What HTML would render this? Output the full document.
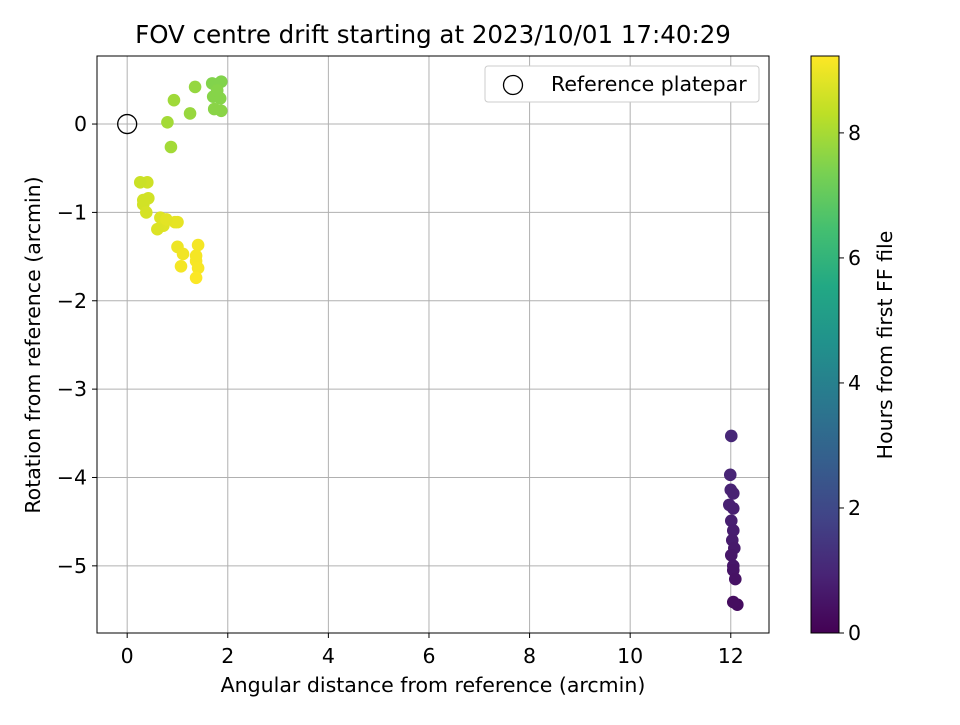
<!DOCTYPE html>
<html><head><meta charset="utf-8">
<style>
body{margin:0;background:#fff;}
svg text{font-family:"DejaVu Sans","Liberation Sans",sans-serif;fill:#000;}
</style></head><body>
<svg id="chart" width="960" height="720" xmlns="http://www.w3.org/2000/svg">
<defs>
<linearGradient id="vir" x1="0" y1="1" x2="0" y2="0">
<stop offset="0" stop-color="#440154"/><stop offset="0.1" stop-color="#482475"/><stop offset="0.2" stop-color="#414487"/><stop offset="0.3" stop-color="#355f8d"/><stop offset="0.4" stop-color="#2a788e"/><stop offset="0.5" stop-color="#21918c"/><stop offset="0.6" stop-color="#22a884"/><stop offset="0.7" stop-color="#44bf70"/><stop offset="0.8" stop-color="#7ad151"/><stop offset="0.9" stop-color="#bddf26"/><stop offset="1" stop-color="#fde725"/>
</linearGradient>
<clipPath id="pc"><rect x="97" y="56" width="672" height="577"/></clipPath>
</defs>
<text x="433" y="43" style="font-size:24.5px" text-anchor="middle">FOV centre drift starting at 2023/10/01 17:40:29</text>
<g id="grid"></g>
<g id="pts" clip-path="url(#pc)"></g>
<rect x="97" y="56" width="672" height="577" fill="none" stroke="#000" stroke-width="1"/>
<g id="ticks"></g>
<text x="433" y="692" style="font-size:20.5px" text-anchor="middle">Angular distance from reference (arcmin)</text>
<text transform="translate(40,345) rotate(-90)" style="font-size:20.5px" text-anchor="middle">Rotation from reference (arcmin)</text>
<g>
<rect x="485" y="66" width="274" height="36" rx="3" fill="#fff" stroke="#ccc"/>
<circle cx="513" cy="85" r="9.5" fill="none" stroke="#000" stroke-width="1.3"/>
<text x="551" y="91" style="font-size:20.5px">Reference platepar</text>
</g>
<rect x="811" y="56" width="28" height="577" fill="url(#vir)" stroke="#000" stroke-width="1"/>
<g id="cbticks"></g>
<text transform="translate(892,345) rotate(-90)" style="font-size:20.5px" text-anchor="middle">Hours from first FF file</text>
</svg>
<script>
const xTicks=[0,2,4,6,8,10,12];
const yTicks=[0,-1,-2,-3,-4,-5];
const cTicks=[0,2,4,6,8];
const ptX=[1.69,1.87,1.71,1.85,1.73,1.87,1.25,0.80,0.93,1.35,0.87,1.79,
0.40,0.26,0.42,0.32,0.38,0.32,0.66,0.72,0.60,0.95,1.0,0.78,1.0,1.11,1.07,1.41,1.37,1.41,1.37,1.37,
12.01,11.99,12.0,12.05,11.97,12.05,12.01,12.05,12.03,12.07,12.01,12.05,12.05,12.09,12.13,12.05];
const ptY=[0.46,0.48,0.31,0.29,0.17,0.15,0.12,0.02,0.27,0.42,-0.26,0.38,
-0.66,-0.66,-0.84,-0.91,-1.0,-0.86,-1.06,-1.15,-1.19,-1.11,-1.11,-1.08,-1.39,-1.47,-1.61,-1.37,-1.55,-1.63,-1.74,-1.49,
-3.53,-3.97,-4.14,-4.18,-4.31,-4.35,-4.49,-4.6,-4.71,-4.8,-4.88,-5.0,-5.05,-5.15,-5.44,-5.41];
const ptH=[7.5,7.5,7.55,7.55,7.6,7.6,7.8,7.95,7.9,7.75,7.95,7.55,
8.55,8.5,8.6,8.6,8.65,8.6,8.75,8.8,8.75,8.9,8.9,8.85,9.0,9.05,9.1,9.1,9.15,9.15,9.2,9.12,
1.0,0.95,0.9,0.88,0.85,0.82,0.78,0.75,0.7,0.65,0.6,0.55,0.5,0.45,0.3,0.32];
const X0=-0.6,X1=12.76,Y0=-5.76,Y1=0.77,C1=9.23;
const sx=v=>97+(v-X0)/(X1-X0)*672;
const sy=v=>633-(v-Y0)/(Y1-Y0)*577;
const sc=v=>633-v/C1*577;
const vir=["#440154","#482475","#414487","#355f8d","#2a788e","#21918c","#22a884","#44bf70","#7ad151","#bddf26","#fde725"];
function hex(h){return [1,3,5].map(i=>parseInt(h.substr(i,2),16));}
function cmap(t){t=Math.max(0,Math.min(1,t))*10;const i=Math.min(9,Math.floor(t)),f=t-i;const a=hex(vir[i]),b=hex(vir[i+1]);return 'rgb('+a.map((v,k)=>Math.round(v+(b[k]-v)*f)).join(',')+')';}
const NS="http://www.w3.org/2000/svg";
function mk(p,tag,at){const e=document.createElementNS(NS,tag);for(const k in at)e.setAttribute(k,at[k]);p.appendChild(e);return e;}
const grid=document.getElementById('grid'),ticks=document.getElementById('ticks'),pts=document.getElementById('pts'),cb=document.getElementById('cbticks');
xTicks.forEach(v=>{const x=sx(v);
const g=mk(grid,'line',{x1:x,x2:x,y1:56,y2:633,stroke:'#b0b0b0','stroke-width':1});


mk(ticks,'line',{x1:x,x2:x,y1:633,y2:638,stroke:'#000'});
const t=mk(ticks,'text',{x:x,y:663,style:'font-size:20.5px','text-anchor':'middle'});t.textContent=v;

});
yTicks.forEach(v=>{const y=sy(v);
const g=mk(grid,'line',{x1:97,x2:769,y1:y,y2:y,stroke:'#b0b0b0','stroke-width':1});


mk(ticks,'line',{x1:92,x2:97,y1:y,y2:y,stroke:'#000'});
const t=mk(ticks,'text',{x:87,y:y+7,style:'font-size:20.5px','text-anchor':'end'});t.textContent=v<0?'\u2212'+(-v):v;

});
cTicks.forEach(v=>{const y=sc(v);
mk(cb,'line',{x1:839,x2:844,y1:y,y2:y,stroke:'#000'});
const t=mk(cb,'text',{x:848,y:y+7,style:'font-size:20.5px'});t.textContent=v;

});
ptX.forEach((v,i)=>{const c=mk(pts,'circle',{cx:sx(v),cy:sy(ptY[i]),r:6.3,fill:cmap(ptH[i]/C1)});

});
const r=mk(pts,'circle',{cx:sx(0),cy:sy(0),r:9.5,fill:'none',stroke:'#000','stroke-width':1.3});


</script>
</body></html>
